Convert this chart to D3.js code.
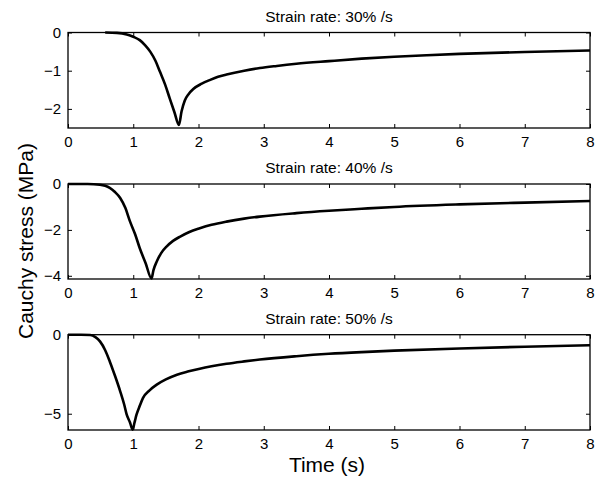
<!DOCTYPE html>
<html><head><meta charset="utf-8">
<script src="https://cdn.jsdelivr.net/npm/d3@7"></script>
<style>
body{margin:0;background:#fff;}
text{font-family:"Liberation Sans",Arial,Helvetica,sans-serif;fill:#000;}
</style></head>
<body><svg id="c" width="604" height="479"></svg>
<script>
const titles = ["Strain rate: 30% /s","Strain rate: 40% /s","Strain rate: 50% /s"];
const xTicks = [0,1,2,3,4,5,6,7,8];
const yTicks1 = [0,-1,-2];
const yTicks2 = [0,-2,-4];
const yTicks3 = [0,-5];
const yMin = [-2.5,-4.14,-6.03];
// [time, stress]
const series30 = [[0.57,0],[0.75,-0.01],[0.9,-0.05],[1.0,-0.11],[1.1,-0.2],[1.18,-0.33],[1.26,-0.5],[1.34,-0.74],[1.41,-1.03],[1.49,-1.37],[1.56,-1.73],[1.63,-2.08],[1.70,-2.42],[1.74,-2.07],[1.79,-1.78],[1.85,-1.61],[1.92,-1.48],[2.05,-1.34],[2.18,-1.24],[2.3,-1.16],[2.43,-1.10],[2.7,-1.0],[2.94,-0.93],[3.2,-0.875],[3.5,-0.82],[4,-0.75],[4.5,-0.685],[5,-0.635],[5.5,-0.595],[6,-0.56],[7,-0.51],[8,-0.47]];
const series40 = [[0,0],[0.3,0],[0.49,-0.03],[0.57,-0.08],[0.64,-0.17],[0.72,-0.35],[0.80,-0.61],[0.88,-1.05],[0.95,-1.63],[1.03,-2.2],[1.10,-2.8],[1.19,-3.45],[1.28,-4.12],[1.31,-3.75],[1.36,-3.38],[1.43,-3.0],[1.51,-2.73],[1.61,-2.48],[1.72,-2.29],[1.86,-2.09],[2.02,-1.93],[2.2,-1.78],[2.43,-1.64],[2.7,-1.51],[2.94,-1.42],[3.5,-1.27],[4,-1.165],[4.5,-1.08],[5,-1.0],[6,-0.89],[7,-0.81],[8,-0.74]];
const series50 = [[0,0],[0.2,0],[0.34,-0.02],[0.42,-0.15],[0.49,-0.42],[0.57,-0.98],[0.64,-1.69],[0.72,-2.6],[0.80,-3.58],[0.86,-4.4],[0.90,-5.06],[0.95,-5.55],[0.99,-6.01],[1.02,-5.55],[1.05,-5.06],[1.10,-4.5],[1.15,-4.0],[1.25,-3.52],[1.36,-3.16],[1.5,-2.83],[1.67,-2.53],[1.85,-2.32],[2.02,-2.15],[2.2,-2.0],[2.43,-1.84],[2.7,-1.69],[2.94,-1.57],[3.5,-1.36],[4,-1.21],[4.5,-1.10],[5,-1.01],[6,-0.87],[7,-0.76],[8,-0.67]];

const svg = d3.select("#c");
const panels = [
  {data:series30, yTicks:yTicks1, ymin:yMin[0], top:32.5, bottom:128, title:titles[0]},
  {data:series40, yTicks:yTicks2, ymin:yMin[1], top:184, bottom:279, title:titles[1]},
  {data:series50, yTicks:yTicks3, ymin:yMin[2], top:334.7, bottom:430, title:titles[2]}
];
const left = 68, right = 590;
const x = d3.scaleLinear().domain([0,8]).range([left,right]);
const tl = 4;
panels.forEach(p => {
  const y = d3.scaleLinear().domain([p.ymin,0]).range([p.bottom,p.top]);
  const g = svg.append("g");
  g.append("path").datum(p.data)
    .attr("fill","none").attr("stroke","#000").attr("stroke-width",2.6)
    .attr("stroke-linejoin","round")
    .attr("d", d3.line().x(d=>x(d[0])).y(d=>y(d[1])).curve(d3.curveMonotoneX));
  const ax = g.append("g").attr("transform",`translate(0,${p.bottom})`)
    .call(d3.axisBottom(x).tickValues(xTicks).tickSizeInner(-tl).tickSizeOuter(0).tickPadding(8));
  const axTop = g.append("g").attr("transform",`translate(0,${p.top})`)
    .call(d3.axisTop(x).tickValues(xTicks).tickSizeInner(-tl).tickSizeOuter(0).tickFormat(""));
  const ay = g.append("g").attr("transform",`translate(${left},0)`)
    .call(d3.axisLeft(y).tickValues(p.yTicks).tickSizeInner(-tl).tickSizeOuter(0).tickPadding(7)
      .tickFormat(d => d===0 ? "0" : "\u2212"+Math.abs(d)));
  const ayR = g.append("g").attr("transform",`translate(${right},0)`)
    .call(d3.axisRight(y).tickValues(p.yTicks).tickSizeInner(-tl).tickSizeOuter(0).tickFormat(""));
  [ax,axTop,ay,ayR].forEach(a => {
    a.select(".domain").remove();
    a.selectAll("line").attr("stroke","#000").attr("stroke-width",1);
    a.selectAll("text").style("font-size","15px").attr("fill","#000");
  });
  g.append("rect").attr("x",left).attr("y",p.top).attr("width",right-left).attr("height",p.bottom-p.top)
    .attr("fill","none").attr("stroke","#000").attr("stroke-width",1.3);
  g.append("text").attr("x",329).attr("y",p.top-11).attr("text-anchor","middle")
    .style("font-size","15.5px").text(p.title);
});
svg.append("text").attr("x",327).attr("y",472).attr("text-anchor","middle")
  .style("font-size","21px").text("Time (s)");
svg.append("text").attr("transform","translate(33,241) rotate(-90)").attr("text-anchor","middle")
  .style("font-size","21px").text("Cauchy stress (MPa)");
</script></body></html>
